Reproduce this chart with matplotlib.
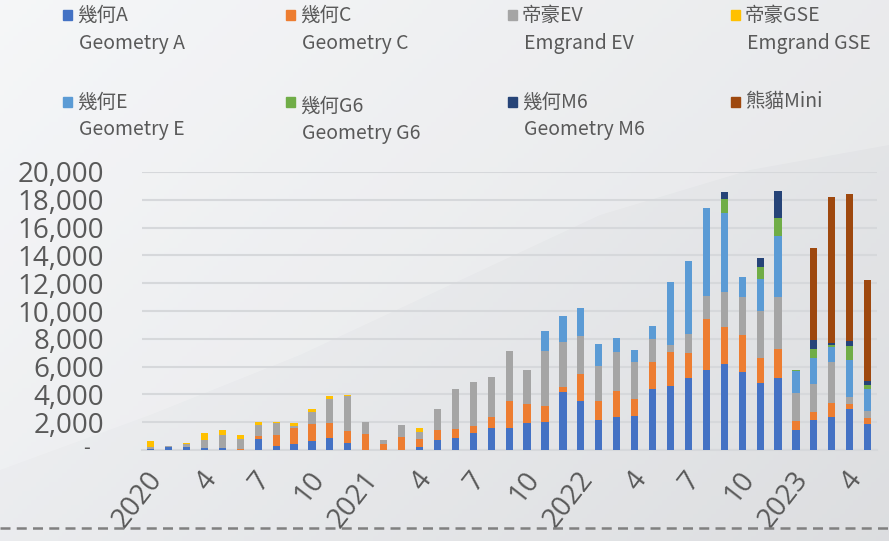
import matplotlib
matplotlib.use("Agg")

import matplotlib.pyplot as plt
import matplotlib.transforms as mtransforms
import numpy as np
from matplotlib.patches import Rectangle
from matplotlib.ticker import FuncFormatter

# Monthly sales, Jan 2020 - May 2023 (41 months)
month_labels = [
    "2020", "", "", "4", "", "", "7", "", "", "10", "", "",
    "2021", "", "", "4", "", "", "7", "", "", "10", "", "",
    "2022", "", "", "4", "", "", "7", "", "", "10", "", "",
    "2023", "", "", "4", "",
]

geometry_a = [80, 200, 190, 120, 140, 30, 770, 260, 410, 650, 860, 500,
              0, 0, 0, 190, 700, 840, 1200, 1580, 1580, 1940, 2020, 4180,
              3530, 2140, 2380, 2420, 4370, 4630, 5210, 5780, 6220, 5620, 4820, 5210,
              1460, 2160, 2400, 2950, 1850]
geometry_c = [0, 0, 0, 0, 0, 20, 240, 790, 1170, 1220, 1080, 860,
              1130, 460, 910, 600, 740, 650, 560, 770, 1940, 1390, 1130, 360,
              1970, 1390, 1900, 1270, 1970, 2400, 1750, 3650, 2620, 2640, 1780, 2040,
              600, 550, 1010, 380, 480]
emgrand_ev = [100, 60, 240, 600, 940, 770, 790, 860, 120, 860, 1750, 2520,
              910, 290, 860, 530, 1490, 2880, 3120, 2930, 3600, 2420, 3940, 3220,
              2680, 2500, 2740, 2660, 1610, 530, 1420, 1680, 2500, 2760, 3430, 3770,
              2060, 2060, 2950, 480, 500]
emgrand_gse = [480, 50, 50, 480, 340, 240, 190, 140, 240, 240, 190, 100,
               0, 0, 0, 290, 50, 50, 0, 0, 0, 0, 0, 0,
               0, 0, 0, 0, 0, 0, 0, 0, 0, 0, 0, 0,
               0, 0, 0, 0, 0]
geometry_e = [0, 0, 0, 0, 0, 0, 0, 0, 0, 0, 0, 0,
              0, 0, 0, 0, 0, 0, 0, 0, 0, 0, 1490, 1870,
              2000, 1630, 1010, 860, 960, 4540, 5210, 6310, 5740, 1460, 2260, 4370,
              1540, 1820, 1060, 2640, 1540]
geometry_g6 = [0] * 32 + [960, 0, 840, 1300, 100, 670, 120, 1060, 340]
geometry_m6 = [0] * 32 + [550, 0, 650, 1970, 0, 620, 140, 310, 260]
panda_mini = [0] * 37 + [6650, 10540, 10630, 7270]

series = [
    ("幾何A", "Geometry A", geometry_a, "#4472C4"),
    ("幾何C", "Geometry C", geometry_c, "#ED7D31"),
    ("帝豪EV", "Emgrand EV", emgrand_ev, "#A5A5A5"),
    ("帝豪GSE", "Emgrand GSE", emgrand_gse, "#FFC000"),
    ("幾何E", "Geometry E", geometry_e, "#5B9BD5"),
    ("幾何G6", "Geometry G6", geometry_g6, "#70AD47"),
    ("幾何M6", "Geometry M6", geometry_m6, "#264478"),
    ("熊貓Mini", "", panda_mini, "#9E480E"),
]

W, H = 889, 541
text_color = "#595959"
cjk = ["Noto Sans CJK TC", "DejaVu Sans"]

fig = plt.figure(figsize=(W / 100, H / 100), dpi=100)

# --- soft grey background with a lighter swoosh ---
bg = fig.add_axes([0, 0, 1, 1], zorder=-10)
gx = np.linspace(0, 1, 200)
gy = np.linspace(0, 1, 120)
gxx, gyy = np.meshgrid(gx, gy)
shade = 0.955 - 0.055 * gxx - 0.035 * gyy
bg.imshow(np.dstack([shade, shade + 0.005, shade + 0.014]).clip(0, 1),
          extent=[0, W, H, 0], aspect="auto")
cx = np.array([0, 150, 300, 450, 600, 750, W])
cy = np.array([470, 415, 355, 285, 215, 170, 145])
bg.fill_between(cx, cy, 0, color="white", alpha=0.2, lw=0)
bg.set_xlim(0, W)
bg.set_ylim(H, 0)
bg.axis("off")

# --- chart ---
ax = fig.add_axes([141.7 / W, 1 - 450 / H, (876.6 - 141.7) / W, (450 - 172) / H])
ax.patch.set_alpha(0)

x = np.arange(len(month_labels))
bottom = np.zeros(len(x))
for _, _, vals, color in series:
    vals = np.array(vals, dtype=float)
    ax.bar(x, vals, width=0.4, bottom=bottom, color=color, zorder=3)
    bottom += vals

ax.set_xlim(-0.5, len(x) - 0.5)
ax.set_ylim(0, 20000)
ax.set_yticks(np.arange(0, 20001, 2000))
ax.yaxis.set_major_formatter(FuncFormatter(lambda v, p: f"{v:,.0f}" if v else ""))
ax.yaxis.grid(True, color="#D6D8DB", lw=1.5, zorder=0)
for s in ["top", "right", "left"]:
    ax.spines[s].set_visible(False)
ax.spines["bottom"].set_color("#D6D8DB")
ax.spines["bottom"].set_linewidth(1.5)

ax.tick_params(axis="y", length=0, pad=27, labelsize=20, labelcolor=text_color)
for lbl in ax.get_yticklabels():
    lbl.set_fontfamily("Open Sans")
ax.annotate("-", xy=(0, 0), xycoords=("axes fraction", "data"), xytext=(-40, 1),
            textcoords="offset points", ha="center", va="center",
            fontsize=15, color=text_color, fontfamily="Open Sans")

ax.set_xticks(x)
ax.set_xticklabels(month_labels, rotation=52, ha="right", va="center",
                   rotation_mode="anchor", fontfamily="Open Sans")
ax.tick_params(axis="x", length=0, pad=18, labelsize=20, labelcolor=text_color)
shift = mtransforms.ScaledTranslation(7 / 100, 0, fig.dpi_scale_trans)
for lbl in ax.get_xticklabels():
    lbl.set_transform(lbl.get_transform() + shift)

# dashed separator near the bottom, drawn over the tick labels like the source
fig.add_artist(plt.Line2D([0, 1], [1 - 528 / H, 1 - 528 / H], transform=fig.transFigure,
                          color="#808080", lw=1.8, ls=(0, (4, 2.5)), zorder=5))

# --- legend (two-line entries, 4 columns) ---
col_x = [63, 286, 508, 731]
row_y = [15, 102]
for i, (zh, en, _, color) in enumerate(series):
    px = col_x[i % 4]
    py = row_y[i // 4]
    dy = 4 if zh == "幾何G6" else 0
    fig.patches.append(Rectangle((px / W, 1 - (py + 5) / H), 9 / W, 10 / H,
                                 transform=fig.transFigure, color=color))
    fig.text((px + 14) / W, 1 - (py + dy) / H, zh, fontsize=14, color=text_color,
             family=cjk, va="center", ha="left")
    if en:
        fig.text((px + 16) / W, 1 - (py + 28 + dy) / H, en, fontsize=14,
                 color=text_color, family=cjk, va="center", ha="left")

fig.savefig("out.png", dpi=100)
